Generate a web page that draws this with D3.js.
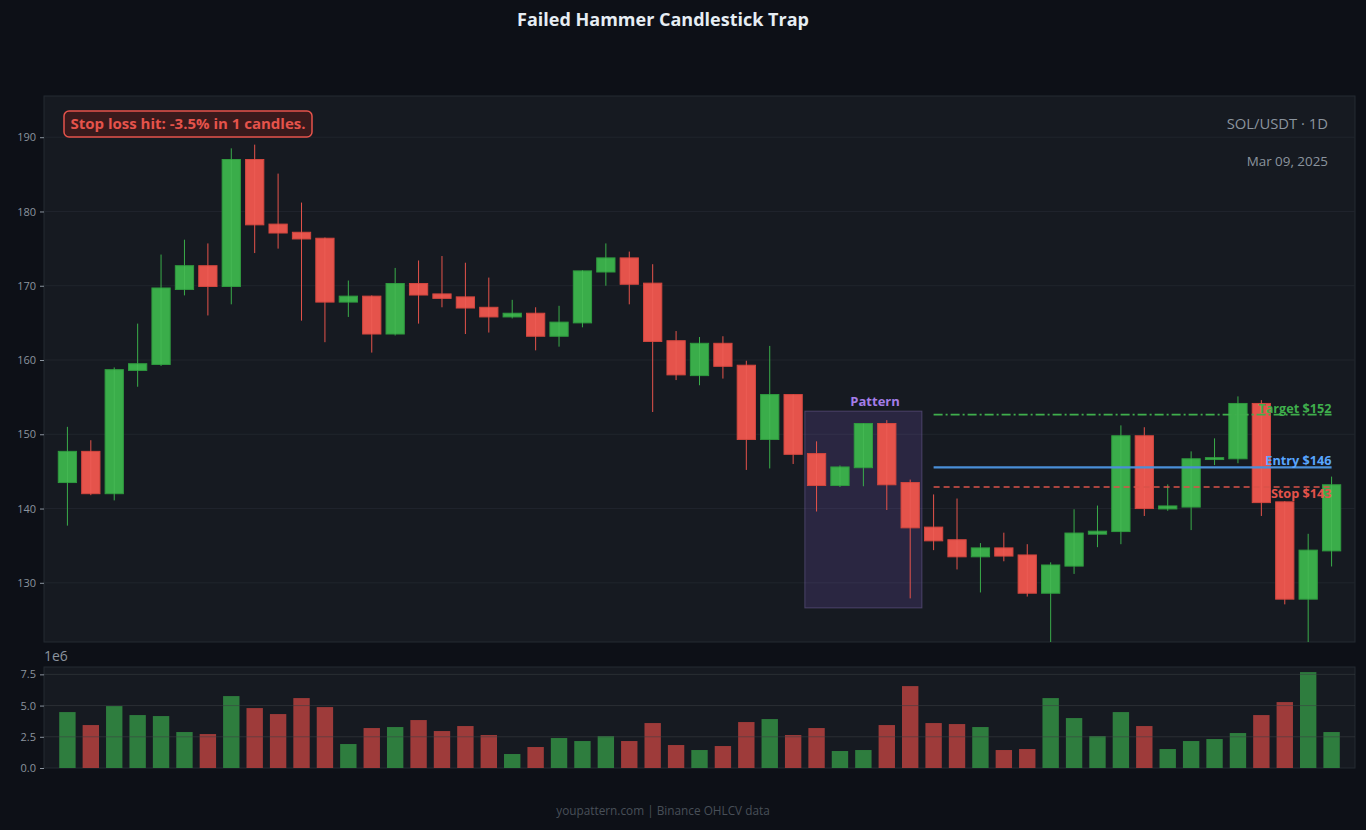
<!DOCTYPE html>
<html>
<head>
<meta charset="utf-8">
<script src="https://cdn.jsdelivr.net/npm/d3@7"></script>
<style>
  html, body { margin: 0; padding: 0; background: #0d1017; }
  svg { display: block; font-family: "Open Sans", "Noto Sans", sans-serif; }
</style>
</head>
<body>
<div id="chart"></div>
<script>
// OHLC, one value per candle
const opens  = [143.5,147.7,142.0,158.6,159.4,169.5,172.7,169.9,187.0,178.3,177.2,176.4,167.8,168.6,163.5,170.3,168.9,168.5,167.1,165.8,166.3,163.2,165.0,171.85,173.75,170.35,162.6,157.9,162.25,159.3,149.3,155.35,147.4,143.1,145.5,151.45,143.5,137.5,135.8,133.5,134.7,133.75,128.6,132.25,136.55,136.9,149.8,139.95,140.2,146.6,146.7,154.15,140.9,127.8,134.3];
const highs  = [151.0,149.2,159.0,164.9,174.2,176.2,175.7,188.5,189.0,185.1,181.2,176.5,170.7,168.7,172.4,173.4,174.0,173.1,171.1,168.1,167.1,167.3,172.1,175.7,174.6,172.9,163.9,163.1,163.2,159.9,161.9,155.4,149.05,145.8,151.5,151.9,143.9,141.9,141.35,135.35,136.75,135.2,132.75,139.9,140.4,151.2,150.95,143.25,147.7,149.45,155.1,154.6,141.0,136.6,144.3];
const lows   = [137.7,141.8,141.1,156.4,159.2,168.7,166.0,167.5,174.4,175.0,165.3,162.4,165.8,161.0,163.3,164.9,167.1,163.5,163.7,165.6,161.3,161.8,164.4,170.0,167.5,153.0,157.3,156.6,157.5,145.2,145.4,146.0,139.6,142.9,143.0,139.8,127.9,134.4,131.8,128.7,132.9,128.15,121.0,131.2,134.8,135.2,139.0,139.7,137.1,145.85,146.1,139.0,127.1,121.0,132.2];
const closes = [147.7,142.0,158.7,159.5,169.7,172.7,169.9,187.0,178.2,177.1,176.3,167.8,168.6,163.5,170.3,168.75,168.3,167.0,165.8,166.3,163.2,165.1,172.0,173.75,170.2,162.5,158.0,162.25,159.15,149.3,155.35,147.3,143.1,145.6,151.45,143.2,137.4,135.65,133.5,134.7,133.6,128.6,132.4,136.7,136.95,149.8,140.0,140.35,146.7,146.85,154.15,140.8,127.8,134.4,143.2];
const volumes = [4.48,3.44,4.96,4.24,4.16,2.88,2.72,5.76,4.80,4.32,5.60,4.88,1.92,3.20,3.28,3.84,2.96,3.36,2.64,1.12,1.68,2.40,2.16,2.56,2.16,3.60,1.84,1.44,1.76,3.68,3.92,2.64,3.20,1.36,1.44,3.44,6.56,3.60,3.52,3.28,1.44,1.52,5.60,4.00,2.56,4.48,3.36,1.52,2.16,2.32,2.80,4.24,5.28,7.68,2.88].map(v => v * 1e6);

const priceTicks = [130, 140, 150, 160, 170, 180, 190];
const volumeTicks = [0, 2.5e6, 5e6, 7.5e6];

const patternStart = 32, patternEnd = 36;
const tradeStart = 37, tradeEnd = 54;
const levelNames  = ["Target", "Entry", "Stop"];
const levelValues = [152.65, 145.55, 142.9];
const levelLabels = ["Target $152", "Entry $146", "Stop $143"];

const titleText = "Failed Hammer Candlestick Trap";
const noteText = "Stop loss hit: -3.5% in 1 candles.";
const symbolText = "SOL/USDT · 1D";
const dateText = "Mar 09, 2025";
const footerText = "youpattern.com | Binance OHLCV data";

const W = 1366, H = 830;
const main = { left: 44, right: 1355, top: 96, bottom: 642 };
const vol = { left: 44, right: 1355, top: 667, bottom: 768 };

const GREEN = "#3aad4a", RED = "#e5534b";
const GREEN_EDGE = "#2f9a3f", RED_EDGE = "#d2473f";
const VGREEN = "#2e7d3e", VRED = "#9e3b3a";
const TEXT = "#8b949e";

const candles = opens.map((o, i) => ({
  i, o, h: highs[i], l: lows[i], c: closes[i], v: volumes[i], up: closes[i] >= o
}));

const x = d3.scaleLinear().domain([-1, candles.length]).range([main.left, main.right]);
const y = d3.scaleLinear().domain([122.03, 195.55]).range([main.bottom, main.top]);
const yv = d3.scaleLinear().domain([0, 8.09e6]).range([vol.bottom, vol.top]);
const step = x(1) - x(0);

const svg = d3.select("#chart").append("svg").attr("width", W).attr("height", H);
svg.append("rect").attr("width", W).attr("height", H).attr("fill", "#0d1017");

svg.append("defs").append("clipPath").attr("id", "mainClip")
  .append("rect").attr("x", main.left).attr("y", main.top)
  .attr("width", main.right - main.left).attr("height", main.bottom - main.top);

// panels
svg.append("rect").attr("x", main.left).attr("y", main.top)
  .attr("width", main.right - main.left).attr("height", main.bottom - main.top)
  .attr("fill", "#161a21").attr("stroke", "#252a32").attr("stroke-width", 1);
svg.append("rect").attr("x", vol.left).attr("y", vol.top)
  .attr("width", vol.right - vol.left).attr("height", vol.bottom - vol.top)
  .attr("fill", "#161a21").attr("stroke", "#252a32").attr("stroke-width", 1);

// price grid
svg.append("g").selectAll("line").data(priceTicks).join("line")
  .attr("x1", main.left).attr("x2", main.right)
  .attr("y1", d => y(d)).attr("y2", d => y(d))
  .attr("stroke", "#20252d").attr("stroke-width", 1);

// price axis
const yAxis = svg.append("g").attr("transform", `translate(${main.left},0)`)
  .call(d3.axisLeft(y).tickValues(priceTicks).tickSize(4).tickPadding(4));
yAxis.select(".domain").remove();
yAxis.selectAll("line").attr("stroke", TEXT);
yAxis.selectAll("text").attr("fill", TEXT).style("font-size", "11px").style("font-family", "Open Sans, sans-serif");

const plot = svg.append("g").attr("clip-path", "url(#mainClip)");

// pattern box
const pLow = d3.min(candles.slice(patternStart, patternEnd + 1), d => d.l) * 0.99;
const pHigh = d3.max(candles.slice(patternStart, patternEnd + 1), d => d.h) * 1.008;
plot.append("rect")
  .attr("x", x(patternStart - 0.5)).attr("width", x(patternEnd + 0.5) - x(patternStart - 0.5))
  .attr("y", y(pHigh)).attr("height", y(pLow) - y(pHigh))
  .attr("fill", "#7c5cc4").attr("fill-opacity", 0.2)
  .attr("stroke", "#7c6aa8").attr("stroke-opacity", 0.45).attr("stroke-width", 1);
svg.append("text").attr("x", x((patternStart + patternEnd) / 2 + 0.5)).attr("y", y(pHigh) - 5)
  .attr("text-anchor", "middle").attr("fill", "#a47de8")
  .style("font-size", "13px").style("font-weight", "bold").text("Pattern");

// candles
const cg = plot.append("g").selectAll("g").data(candles).join("g");
cg.append("line")
  .attr("x1", d => x(d.i)).attr("x2", d => x(d.i))
  .attr("y1", d => y(d.h)).attr("y2", d => y(d.l))
  .attr("stroke", d => d.up ? GREEN : RED).attr("stroke-width", 1);
const bodyW = step * 0.78;
cg.append("rect")
  .attr("x", d => x(d.i) - bodyW / 2).attr("width", bodyW)
  .attr("y", d => y(Math.max(d.o, d.c)))
  .attr("height", d => Math.max(1, Math.abs(y(d.o) - y(d.c))))
  .attr("fill", d => d.up ? GREEN : RED)
  .attr("stroke", d => d.up ? GREEN_EDGE : RED_EDGE).attr("stroke-width", 1);
cg.append("line")
  .attr("x1", d => x(d.i)).attr("x2", d => x(d.i))
  .attr("y1", d => y(Math.max(d.o, d.c))).attr("y2", d => y(Math.min(d.o, d.c)))
  .attr("stroke", d => d.up ? "#4cc05a" : "#f0625a").attr("stroke-width", 1).attr("stroke-opacity", 0.6);

// trade levels
const levelColors = ["#3fae4c", "#4a8fd8", "#d9534a"];
const levelDash = ["9,3,2,3", null, "6,4"];
const levelWidth = [1.6, 2.4, 1.6];
const textColors = ["#3fae4c", "#58a6ff", "#e5534b"];
const textDy = [-1.5, -2.5, 10.5];
levelValues.forEach((v, k) => {
  svg.append("line")
    .attr("x1", x(tradeStart)).attr("x2", x(tradeEnd))
    .attr("y1", y(v)).attr("y2", y(v))
    .attr("stroke", levelColors[k]).attr("stroke-width", levelWidth[k])
    .attr("stroke-dasharray", levelDash[k]);
  svg.append("text")
    .attr("x", x(tradeEnd)).attr("y", y(v) + textDy[k])
    .attr("text-anchor", "end").attr("fill", textColors[k])
    .style("font-size", "12.7px").style("font-weight", "bold")
    .text(levelLabels[k]);
});

// note box
const note = svg.append("g").attr("transform", "translate(64,111)");
note.append("rect").attr("width", 248).attr("height", 26).attr("rx", 5)
  .attr("fill", "#3a1a1c").attr("stroke", "#e5534b").attr("stroke-width", 1.5);
note.append("text").attr("x", 124).attr("y", 18).attr("text-anchor", "middle")
  .attr("fill", "#e5534b").style("font-size", "15px").style("font-weight", "bold").text(noteText);

svg.append("text").attr("x", 1328).attr("y", 129).attr("text-anchor", "end")
  .attr("fill", TEXT).style("font-size", "14.8px").text(symbolText);
svg.append("text").attr("x", 1328).attr("y", 166).attr("text-anchor", "end")
  .attr("fill", TEXT).style("font-size", "13.4px").text(dateText);

// volume bars
const volW = step * 0.7;
svg.append("g").selectAll("rect").data(candles).join("rect")
  .attr("x", d => x(d.i) - volW / 2).attr("width", volW)
  .attr("y", d => yv(d.v)).attr("height", d => yv(0) - yv(d.v))
  .attr("fill", d => d.up ? VGREEN : VRED);

// volume grid over bars
svg.append("g").selectAll("line").data(volumeTicks.slice(1)).join("line")
  .attr("x1", vol.left).attr("x2", vol.right)
  .attr("y1", d => yv(d)).attr("y2", d => yv(d))
  .attr("stroke", "#3a3f44").attr("stroke-opacity", 0.55).attr("stroke-width", 1);

const vAxis = svg.append("g").attr("transform", `translate(${vol.left},0)`)
  .call(d3.axisLeft(yv).tickValues(volumeTicks).tickFormat(d => d3.format(".1f")(d / 1e6)).tickSize(4).tickPadding(4));
vAxis.select(".domain").remove();
vAxis.selectAll("line").attr("stroke", TEXT);
vAxis.selectAll("text").attr("fill", TEXT).style("font-size", "11px").style("font-family", "Open Sans, sans-serif");
svg.append("text").attr("x", vol.left).attr("y", 661).attr("fill", TEXT)
  .style("font-size", "14px").text("1e6");

// title and footer
svg.append("text").attr("x", 663).attr("y", 26).attr("text-anchor", "middle")
  .attr("fill", "#e6edf3").style("font-size", "18px").style("font-weight", "bold").text(titleText);
svg.append("text").attr("x", 663).attr("y", 815).attr("text-anchor", "middle")
  .attr("fill", "#484f58").style("font-size", "11.8px").text(footerText);
</script>
</body>
</html>
